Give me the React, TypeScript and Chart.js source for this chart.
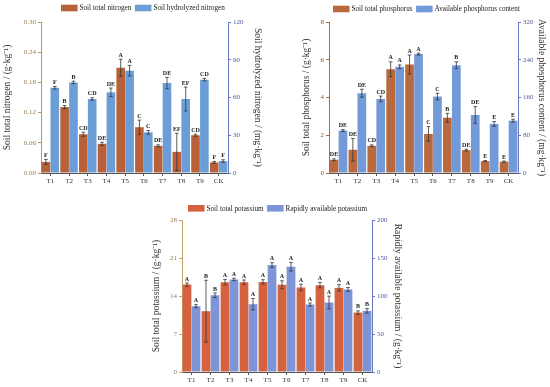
import React, { useEffect, useRef } from "react";
import { Chart, registerables } from "chart.js";

Chart.register(...registerables);

const categories = ["T1", "T2", "T3", "T4", "T5", "T6", "T7", "T8", "T9", "CK"];

// Nitrogen
const nitrogenTotal = [0.022, 0.131, 0.077, 0.058, 0.209, 0.091, 0.054, 0.042, 0.075, 0.021];
const nitrogenTotalErr = [0.005, 0.003, 0.004, 0.003, 0.017, 0.014, 0.002, 0.037, 0.002, 0.002];
const nitrogenHydro = [67.8, 72.0, 58.8, 64.1, 81.3, 32.3, 71.5, 58.8, 74.2, 9.5];
const nitrogenHydroErr = [1, 1, 1, 3.4, 4.2, 1.5, 4.5, 9.5, 1, 1];
const nitrogenLetters = ["F", "B", "CD", "DE", "A", "C", "DE", "EF", "CD", "F"];

// Phosphorus
const phosphorusTotal = [0.7, 1.23, 1.44, 5.5, 5.75, 2.07, 2.93, 1.21, 0.63, 0.6];
const phosphorusTotalErr = [0.05, 0.6, 0.05, 0.39, 0.5, 0.39, 0.23, 0.05, 0.03, 0.03];
const phosphorusAvail = [90, 169, 157, 225, 252, 162, 228.5, 123, 104, 111];
const phosphorusAvailErr = [2, 8.4, 6, 4, 2, 7, 7, 17.6, 5, 3];
const phosphorusLetters = ["DE", "DE", "CD", "A", "A", "C", "B", "DE", "E", "E"];

// Potassium
const potassiumTotal = [16.1, 11.2, 16.55, 16.55, 16.6, 16.06, 15.57, 16.0, 15.5, 10.95];
const potassiumTotalErr = [0.3, 5.7, 0.5, 0.4, 0.4, 0.74, 0.6, 0.5, 0.6, 0.3];
const potassiumRapid = [86.6, 101, 121.8, 89.2, 140.7, 138.5, 88.8, 91.4, 108.6, 80.4];
const potassiumRapidErr = [2, 3, 1.5, 7.5, 3, 5.7, 2, 8.4, 2.6, 3];
const potassiumLetters = ["A", "B", "A", "A", "A", "A", "A", "A", "A", "B"];

const FONT = "'Liberation Serif', 'Times New Roman', serif";

type Spec = {
  left: number;
  top: number;
  width: number;
  height: number;
  padTop: number;
  xHeight: number;
  labels: [string, string];
  colors: [string, string];
  values: [number[], number[]];
  errors: [number[], number[]];
  letters: [string[], string[]];
  leftAxis: { min: number; max: number; step: number; dec: number; title: string; width: number; titlePad: number; tick: string; line: string };
  rightAxis: { min: number; max: number; step: number; dec: number; title: string; width: number; titlePad: number; tick: string; line: string };
  legend: { x: number; y: number };
};

function yAxis(position: string, a: Spec["leftAxis"]) {
  return {
    type: "linear",
    position,
    min: a.min,
    max: a.max,
    ticks: {
      stepSize: a.step,
      color: a.tick,
      font: { family: FONT, size: 7 },
      padding: 2,
      callback: (v: any) => Number(v).toFixed(a.dec),
    },
    grid: { drawOnChartArea: false, drawTicks: true, tickLength: 3, color: a.line, lineWidth: 1 },
    border: { display: true, color: a.line, width: 1 },
    title: {
      display: true,
      text: a.title,
      color: "#333",
      font: { family: FONT, size: 9.5 },
      padding: { top: a.titlePad, bottom: 0 },
    },
    afterFit: (s: any) => {
      s.width = a.width;
    },
  };
}

function overlayPlugin(spec: Spec) {
  return {
    id: "overlay",
    afterDatasetsDraw(chart: any) {
      const ctx = chart.ctx;
      ctx.save();
      chart.data.datasets.forEach((ds: any, di: number) => {
        const meta = chart.getDatasetMeta(di);
        const scale = chart.scales[ds.yAxisID];
        const errs = spec.errors[di];
        const lets = spec.letters[di];
        meta.data.forEach((bar: any, i: number) => {
          const v = ds.data[i];
          const e = errs[i];
          const x = bar.x;
          const yT = scale.getPixelForValue(v + e);
          const yB = scale.getPixelForValue(Math.max(0, v - e));
          ctx.strokeStyle = "#333";
          ctx.lineWidth = 0.8;
          ctx.beginPath();
          ctx.moveTo(x, yT);
          ctx.lineTo(x, yB);
          ctx.moveTo(x - 1.8, yT);
          ctx.lineTo(x + 1.8, yT);
          ctx.moveTo(x - 1.8, yB);
          ctx.lineTo(x + 1.8, yB);
          ctx.stroke();
          ctx.fillStyle = "#222";
          ctx.font = `bold 6px ${FONT}`;
          ctx.textAlign = "center";
          ctx.textBaseline = "bottom";
          ctx.fillText(lets[i], x, yT - 1);
        });
      });
      ctx.restore();
    },
    afterDraw(chart: any) {
      const ctx = chart.ctx;
      ctx.save();
      let x = spec.legend.x;
      const y = spec.legend.y;
      ctx.font = `7.2px ${FONT}`;
      ctx.textBaseline = "middle";
      ctx.textAlign = "left";
      spec.labels.forEach((lab, i) => {
        ctx.fillStyle = spec.colors[i];
        ctx.fillRect(x, y - 3.3, 16.5, 6.6);
        x += 18.5;
        ctx.fillStyle = "#222";
        ctx.fillText(lab, x, y + 0.5);
        x += ctx.measureText(lab).width + 3.5;
      });
      ctx.restore();
    },
  };
}

function buildConfig(spec: Spec): any {
  return {
    type: "bar",
    data: {
      labels: categories,
      datasets: spec.values.map((vals, i) => ({
        label: spec.labels[i],
        data: vals,
        backgroundColor: spec.colors[i],
        borderWidth: 0,
        yAxisID: i === 0 ? "yL" : "yR",
        categoryPercentage: 0.95,
        barPercentage: 0.97,
      })),
    },
    options: {
      responsive: false,
      animation: false,
      layout: { padding: { top: spec.padTop, left: 0, right: 0, bottom: 0 } },
      plugins: { legend: { display: false }, tooltip: { enabled: false }, title: { display: false } },
      scales: {
        x: {
          type: "category",
          offset: true,
          grid: { offset: false, drawOnChartArea: false, drawTicks: true, tickLength: 3, color: "#555" },
          border: { display: true, color: "#555" },
          ticks: { color: "#333", font: { family: FONT, size: 7 }, padding: 1, maxRotation: 0, autoSkip: false },
          afterFit: (s: any) => {
            s.height = spec.xHeight;
          },
        },
        yL: yAxis("left", spec.leftAxis),
        yR: yAxis("right", spec.rightAxis),
      },
    },
    plugins: [overlayPlugin(spec)],
  };
}

const specs: Spec[] = [
  {
    left: 0,
    top: 0,
    width: 265,
    height: 190,
    padTop: 22,
    xHeight: 17,
    labels: ["Soil total nitrogen", "Soil hydrolyzed nitrogen"],
    colors: ["#b8603a", "#6b9ed6"],
    values: [nitrogenTotal, nitrogenHydro],
    errors: [nitrogenTotalErr, nitrogenHydroErr],
    letters: [nitrogenLetters, nitrogenLetters],
    leftAxis: { min: 0, max: 0.3, step: 0.06, dec: 2, title: "Soil total nitrogen / (g·kg⁻¹)", width: 41, titlePad: 2, tick: "#9a7c55", line: "#b8956a" },
    rightAxis: { min: 0, max: 120, step: 30, dec: 0, title: "Soil hydrolyzed nitrogen / (mg·kg⁻¹)", width: 37, titlePad: 2, tick: "#4c5a9a", line: "#6878c0" },
    legend: { x: 61, y: 8 },
  },
  {
    left: 296,
    top: 0,
    width: 254,
    height: 190,
    padTop: 22,
    xHeight: 17,
    labels: ["Soil total phosphorus", "Available phosphorus content"],
    colors: ["#b86a3e", "#7299d8"],
    values: [phosphorusTotal, phosphorusAvail],
    errors: [phosphorusTotalErr, phosphorusAvailErr],
    letters: [phosphorusLetters, phosphorusLetters],
    leftAxis: { min: 0, max: 8, step: 2, dec: 0, title: "Soil total phosphorus / (g·kg⁻¹)", width: 33, titlePad: 5, tick: "#7a5a45", line: "#a86a40" },
    rightAxis: { min: 0, max: 320, step: 80, dec: 0, title: "Available phosphorus content / (mg·kg⁻¹)", width: 32, titlePad: 3, tick: "#4c5a9a", line: "#6878c0" },
    legend: { x: 37, y: 9 },
  },
  {
    left: 145,
    top: 195,
    width: 265,
    height: 192,
    padTop: 25,
    xHeight: 15,
    labels: ["Soil total potassium", "Rapidly available potassium"],
    colors: ["#d5623e", "#7d94d6"],
    values: [potassiumTotal, potassiumRapid],
    errors: [potassiumTotalErr, potassiumRapidErr],
    letters: [potassiumLetters, potassiumLetters],
    leftAxis: { min: 0, max: 28, step: 7, dec: 0, title: "Soil total potassium / (g·kg⁻¹)", width: 37, titlePad: 5.5, tick: "#9a7c55", line: "#c8a070" },
    rightAxis: { min: 0, max: 200, step: 50, dec: 0, title: "Rapidly available potassium / (g·kg⁻¹)", width: 38, titlePad: 7, tick: "#4c5a9a", line: "#6878c0" },
    legend: { x: 43, y: 13.3 },
  },
];

function Panel({ spec }: { spec: Spec }) {
  const ref = useRef<HTMLCanvasElement | null>(null);
  useEffect(() => {
    if (!ref.current) return;
    const chart = new Chart(ref.current, buildConfig(spec));
    return () => chart.destroy();
  }, [spec]);
  return (
    <div style={{ position: "absolute", left: spec.left, top: spec.top, width: spec.width, height: spec.height }}>
      <canvas ref={ref} width={spec.width} height={spec.height} style={{ width: spec.width, height: spec.height, display: "block" }} />
    </div>
  );
}

export default function App() {
  return (
    <div style={{ position: "fixed", left: 0, top: 0, width: 550, height: 387, background: "#fff", overflow: "hidden" }}>
      {specs.map((s, i) => (
        <Panel key={i} spec={s} />
      ))}
    </div>
  );
}
